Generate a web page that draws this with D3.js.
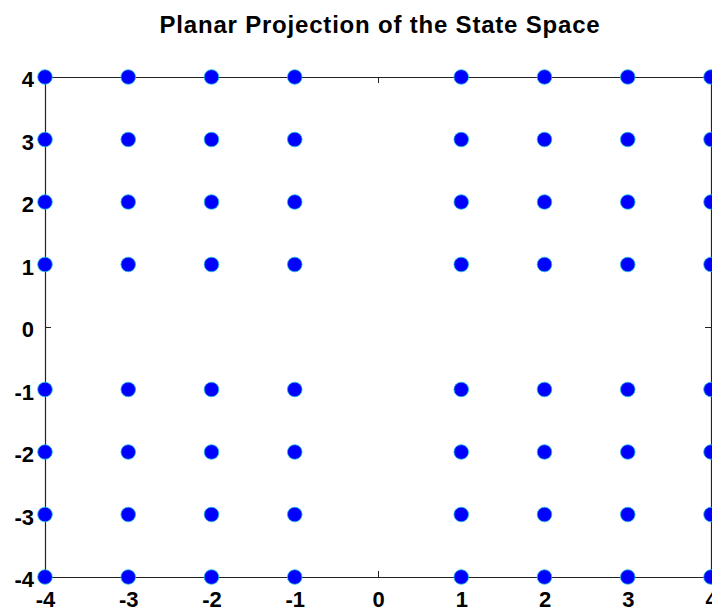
<!DOCTYPE html>
<html>
<head>
<meta charset="utf-8">
<script src="https://cdn.jsdelivr.net/npm/d3@7"></script>
<style>
  body { margin: 0; background: #fff; }
  svg { display: block; }
  text { font-family: "Liberation Sans", Arial, sans-serif; font-weight: bold; fill: #000; }
</style>
</head>
<body>
<svg id="chart" width="712" height="614"></svg>
<script>
// data: state grid values (zero row/column is empty)
const xStates = [-4, -3, -2, -1, 1, 2, 3, 4];
const yStates = [-4, -3, -2, -1, 1, 2, 3, 4];
const tickValues = [-4, -3, -2, -1, 0, 1, 2, 3, 4];
const title = 'Planar Projection of the State Space';

const W = 712, H = 614;
const margin = { top: 77, right: 1, bottom: 37, left: 45 };

const svg = d3.select('#chart');

const x = d3.scaleLinear().domain([-4, 4]).range([margin.left, W - margin.right]);
const y = d3.scaleLinear().domain([-4, 4]).range([H - margin.bottom, margin.top]);

// title
svg.append('text')
  .attr('x', 380)
  .attr('y', 33)
  .attr('text-anchor', 'middle')
  .style('font-size', '24px')
  .style('letter-spacing', '0.8px')
  .text(title);

// axes box with inward ticks on all sides
const tickLen = 6;
const fmt = d => String(d); // plain hyphen minus, like the original
const axisG = svg.append('g').attr('class', 'axes');

const axBottom = d3.axisBottom(x).tickValues(tickValues).tickSize(-tickLen).tickPadding(14).tickFormat(fmt);
const axTop = d3.axisTop(x).tickValues(tickValues).tickSize(-tickLen).tickFormat('');
const axLeft = d3.axisLeft(y).tickValues(tickValues).tickSize(-tickLen).tickPadding(11).tickFormat(fmt);
const axRight = d3.axisRight(y).tickValues(tickValues).tickSize(-tickLen).tickFormat('');

const gB = axisG.append('g').attr('transform', `translate(0,${y(-4)})`).call(axBottom);
axisG.append('g').attr('transform', `translate(0,${y(4)})`).call(axTop);
const gL = axisG.append('g').attr('transform', `translate(${x(-4)},0)`).call(axLeft);
axisG.append('g').attr('transform', `translate(${x(4)},0)`).call(axRight);

axisG.selectAll('.domain').attr('stroke', '#222').attr('stroke-width', 1.2);
axisG.selectAll('.tick line').attr('stroke', '#222');
axisG.selectAll('.tick text')
  .style('font-size', '22px')
  .style('font-family', '"Liberation Sans", Arial, sans-serif')
  .style('font-weight', 'bold')
  .attr('fill', '#111');
gB.selectAll('.tick text').attr('dy', '0.71em');
gL.selectAll('.tick text').attr('dy', '0.45em');

// points
const points = d3.cross(xStates, yStates).map(([a, b]) => ({ x: a, y: b }));
svg.append('g').attr('class', 'points')
  .selectAll('circle')
  .data(points)
  .join('circle')
  .attr('cx', d => x(d.x))
  .attr('cy', d => y(d.y))
  .attr('r', 7.3)
  .attr('fill', '#0000ff')
  .attr('stroke', '#19c3d6')
  .attr('stroke-width', 0.8);
</script>
</body>
</html>
